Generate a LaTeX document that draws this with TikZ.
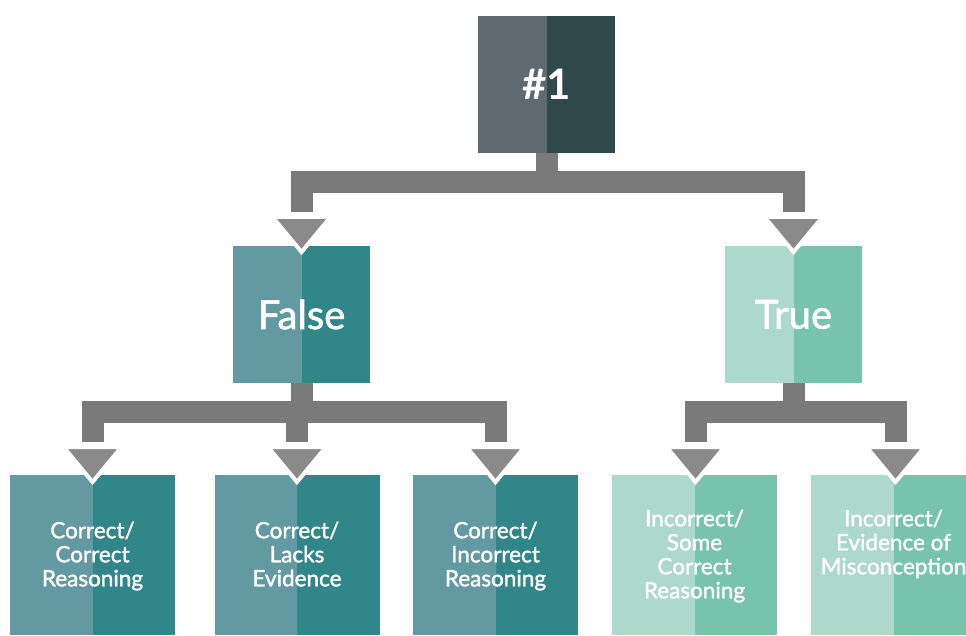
\documentclass[tikz,border=0pt]{standalone}
\usepackage{fontspec}
\setmainfont{Lato}
\newfontfamily\medfont{Lato}[FakeBold=1.5]
\definecolor{rootleft}{HTML}{5F6970}
\definecolor{rootright}{HTML}{30494B}
\definecolor{falseleft}{HTML}{6399A0}
\definecolor{falseright}{HTML}{31868A}
\definecolor{trueleft}{HTML}{ADD8CC}
\definecolor{trueright}{HTML}{77C3AC}
\definecolor{bargray}{HTML}{7A7A7A}
\definecolor{tipgray}{HTML}{8A8A8A}

\begin{document}
\begin{tikzpicture}
  [x=1pt,y=1pt,line join=miter,
   % Styles
   box/.style n args={2}{rectangle,inner sep=0pt,text=white,align=center,fill=#2,
     path picture={\fill[#1] (path picture bounding box.south west)
       rectangle (path picture bounding box.north);}},
   big box/.style={minimum width=137pt,minimum height=137pt,
     font=\medfont\fontsize{40}{40}\selectfont},
   small box/.style={minimum width=165pt,minimum height=160pt,text depth=2pt,
     font=\medfont\fontsize{22.5}{24}\selectfont},
   connector/.style={draw=bargray,line width=22pt,line cap=butt,shorten >=5pt},
   drop/.pic={\filldraw[fill=tipgray,draw=white,line width=4pt]
     (-29,0) -- (29,0) -- (0,-35) -- cycle;}]

  \useasboundingbox (0,0) rectangle (966,635);
  \clip (0,0) rectangle (966,635);

  % The boxes
  \node[box={rootleft}{rootright},big box,font=\fontsize{42}{42}\bfseries]
    (root) at (546.5,550.5) {\#1};
  \node[box={falseleft}{falseright},big box] (false) at (301.5,320.5) {False};
  \node[box={trueleft}{trueright},big box] (true) at (793.5,320.5) {True};

  \node[box={falseleft}{falseright},small box] (corr reas) at (92.5,80)
    {Correct/\\Correct\\Reasoning};
  \node[box={falseleft}{falseright},small box] (corr lack) at (297,80)
    {Correct/\\Lacks\\Evidence};
  \node[box={falseleft}{falseright},small box] (corr inc) at (495.5,80)
    {Correct/\\Incorrect\\Reasoning};
  \node[box={trueleft}{trueright},small box] (inc some) at (694.5,80)
    {Incorrect/\\Some\\Correct\\Reasoning};
  \node[box={trueleft}{trueright},small box] (inc mis) at (893.5,80)
    {Incorrect/\\Evidence of\\Misconception\\\mbox{}};

  % Drop points
  \coordinate (drop false) at (301.5,418);
  \coordinate (drop true) at (793.5,418);
  \coordinate (drop corr reas) at (92.5,188);
  \coordinate (drop corr lack) at (297,188);
  \coordinate (drop corr inc) at (495.5,188);
  \coordinate (drop inc some) at (695.5,188);
  \coordinate (drop inc mis) at (895.5,188);

  % The connectors
  \draw[connector] (root.south) -- ++(0,-29) -| (drop false);
  \draw[connector] (root.south) -- ++(0,-29) -| (drop true);

  \foreach \child in {corr reas,corr lack,corr inc}
    \draw[connector] (false.south) -- ++(0,-29) -| (drop \child);
  \foreach \child in {inc some,inc mis}
    \draw[connector] (true.south) -- ++(0,-29) -| (drop \child);

  \foreach \child in {false,true,corr reas,corr lack,corr inc,inc some,inc mis}
    \pic at (drop \child) {drop};
\end{tikzpicture}
\end{document}
